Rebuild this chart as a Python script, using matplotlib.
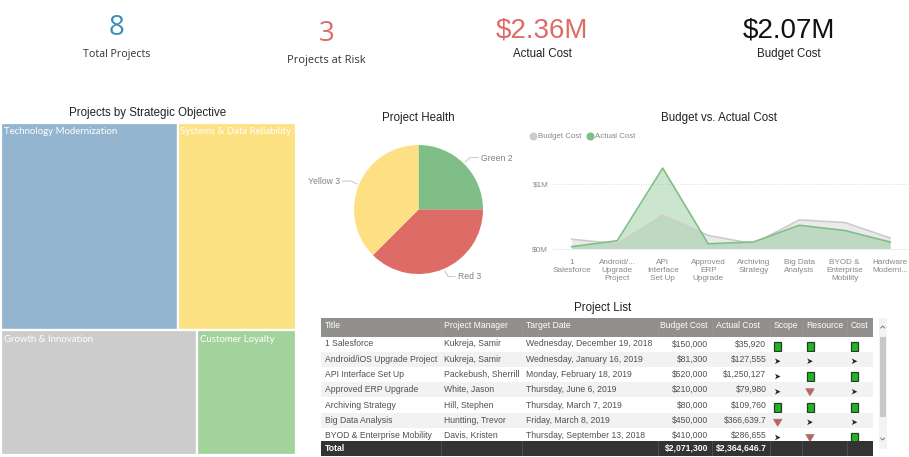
import matplotlib
matplotlib.use("Agg")
import matplotlib.pyplot as plt
from matplotlib.patches import Rectangle, Polygon

plt.rcParams["font.family"] = ["Liberation Sans", "DejaVu Sans"]

W, H = 909, 457

# treemap
tree_names = ["Technology Modernization", "Systems & Data Reliability", "Growth & Innovation", "Customer Loyalty"]
tree_values = [3, 2, 2, 1]
tree_colors = ["#94B5CF", "#FDE283", "#CCCCCC", "#A3D39C"]

# pie
health_names = ["Green", "Red", "Yellow"]
health_counts = [2, 3, 3]
health_colors = ["#7FBF87", "#DD6B66", "#FDE083"]

# area chart
cost_labels = ["1\nSalesforce", "Android/...\nUpgrade\nProject", "API\nInterface\nSet Up", "Approved\nERP\nUpgrade",
               "Archiving\nStrategy", "Big Data\nAnalysis", "BYOD &\nEnterprise\nMobility", "Hardware\nModerni..."]
budget_cost = [150000, 81300, 520000, 210000, 80000, 450000, 410000, 170000]
actual_cost = [35920, 127555, 1250127, 79980, 109760, 366639.7, 286655, 108010]

# table
table_headers = ["Title", "Project Manager", "Target Date", "Budget Cost", "Actual Cost", "Scope", "Resource", "Cost"]
titles = ["1 Salesforce", "Android/iOS Upgrade Project", "API Interface Set Up", "Approved ERP Upgrade",
          "Archiving Strategy", "Big Data Analysis", "BYOD & Enterprise Mobility"]
managers = ["Kukreja, Samir", "Kukreja, Samir", "Packebush, Sherrill", "White, Jason",
            "Hill, Stephen", "Huntting, Trevor", "Davis, Kristen"]
dates = ["Wednesday, December 19, 2018", "Wednesday, January 16, 2019", "Monday, February 18, 2019",
         "Thursday, June 6, 2019", "Thursday, March 7, 2019", "Friday, March 8, 2019",
         "Thursday, September 13, 2018"]
budget_text = ["$150,000", "$81,300", "$520,000", "$210,000", "$80,000", "$450,000", "$410,000"]
actual_text = ["$35,920", "$127,555", "$1,250,127", "$79,980", "$109,760", "$366,639.7", "$286,655"]
scope = ["g", "a", "a", "a", "g", "r", "a"]
resource = ["g", "a", "g", "r", "g", "a", "r"]
cost = ["g", "a", "g", "a", "g", "a", "g"]
total_budget = "$2,071,300"
total_actual = "$2,364,646.7"

TITLE_SIZE = 8.3
CELL_SIZE = 6.2


def make_axes(fig, left, top, right, bottom):
    return fig.add_axes([left / W, 1 - bottom / H, (right - left) / W, (bottom - top) / H])


def draw_kpis(ax):
    ax.text(116.7, 28, "8", fontsize=20, color="#3B8FB4", ha="center", va="center", family="Open Sans")
    ax.text(116.7, 54, "Total Projects", fontsize=7.7, color="#333333", ha="center", va="center", family="Open Sans")
    ax.text(326.7, 34, "3", fontsize=20, color="#DD6B66", ha="center", va="center", family="Open Sans")
    ax.text(326.7, 60, "Projects at Risk", fontsize=7.9, color="#333333", ha="center", va="center", family="Open Sans")
    ax.text(541.5, 31, "$2.36M", fontsize=20, color="#DD6B66", ha="center", va="center")
    ax.text(542.5, 54, "Actual Cost", fontsize=8.3, color="#222222", ha="center", va="center")
    ax.text(789, 31, "$2.07M", fontsize=20, color="#111111", ha="center", va="center")
    ax.text(789, 54, "Budget Cost", fontsize=8.3, color="#222222", ha="center", va="center")


def draw_treemap(ax):
    ax.text(148, 113.3, "Projects by Strategic Objective", fontsize=TITLE_SIZE, color="#222222", ha="center", va="center")
    left, right, top, bottom = 0.5, 295.5, 123, 454.5
    total = sum(tree_values)
    row_split = top + (bottom - top) * sum(tree_values[:2]) / total
    rows = [(tree_values[:2], tree_names[:2], tree_colors[:2], top, row_split),
            (tree_values[2:], tree_names[2:], tree_colors[2:], row_split, bottom)]
    for vals, names, colors, y0, y1 in rows:
        x = left
        for val, name, color in zip(vals, names, colors):
            w = (right - left) * val / sum(vals)
            ax.add_patch(Rectangle((x, y0), w, y1 - y0, facecolor=color, edgecolor="white", linewidth=1.6))
            ax.text(x + 3, y0 + 9, name, fontsize=6.9, color="white", ha="left", va="center", family="Lato")
            x += w


def draw_pie(fig, ax):
    ax.text(418, 117.7, "Project Health", fontsize=TITLE_SIZE, color="#222222", ha="center", va="center")
    pie_ax = make_axes(fig, 354, 145, 483, 274)
    pie_ax.pie(health_counts, colors=health_colors, startangle=90, counterclock=False, radius=1,
               wedgeprops={"linewidth": 0})
    pie_ax.set_xlim(-1, 1)
    pie_ax.set_ylim(-1, 1)
    # leader lines and labels
    ax.plot([465, 470, 478], [162, 157.5, 157.5], color="#CCCCCC", lw=0.8)
    ax.text(481.3, 158.7, f"{health_names[0]} {health_counts[0]}", fontsize=6.2, color="#808080", ha="left", va="center")
    ax.plot([445, 448, 455], [271, 276.5, 276.5], color="#CCCCCC", lw=0.8)
    ax.text(457.7, 276.7, f"{health_names[1]} {health_counts[1]}", fontsize=6.2, color="#808080", ha="left", va="center")
    ax.plot([342.7, 351, 357], [181, 181, 184], color="#CCCCCC", lw=0.8)
    ax.text(308, 182, f"{health_names[2]} {health_counts[2]}", fontsize=6.2, color="#808080", ha="left", va="center")


def draw_area(fig, ax):
    ax.text(719, 117.7, "Budget vs. Actual Cost", fontsize=TITLE_SIZE, color="#222222", ha="center", va="center")
    ax.plot([533], [136.3], "o", ms=4.8, color="#CCCCCC")
    ax.text(538, 136.5, "Budget Cost", fontsize=5.7, color="#888888", ha="left", va="center")
    ax.plot([590], [136.3], "o", ms=4.8, color="#7FBF87")
    ax.text(595, 136.5, "Actual Cost", fontsize=5.7, color="#888888", ha="left", va="center")

    area = make_axes(fig, 553, 150, 909, 249)
    x = list(range(len(cost_labels)))
    area.fill_between(x, budget_cost, color="#CCCCCC", alpha=0.4, lw=0)
    area.fill_between(x, actual_cost, color="#7FBF87", alpha=0.4, lw=0)
    area.plot(x, budget_cost, color="#CCCCCC", lw=1.2)
    area.plot(x, actual_cost, color="#7FBF87", lw=1.2)
    px = 45.5
    area.set_xlim(-(571.7 - 553) / px, (909 - 571.7) / px)
    area.set_ylim(0, 99 / 64.7 * 1e6)
    area.set_yticks([0, 1e6], ["$0M", "$1M"])
    area.set_xticks(x, cost_labels)
    area.tick_params(length=0, labelsize=5.9, labelcolor="#888888")
    area.tick_params(axis="x", pad=7.5)
    for label in area.get_xticklabels():
        label.set_linespacing(1.2)
    area.grid(axis="y", color="#DDDDDD", lw=0.7, ls=(0, (1, 1.5)))
    area.set_axisbelow(True)
    area.patch.set_alpha(0)
    for name, spine in area.spines.items():
        spine.set_visible(name == "bottom")
    area.spines["bottom"].set_color("#EEEEEE")


def draw_icon(ax, cx, cy, kind):
    if kind == "g":
        ax.add_patch(Rectangle((cx - 3.5, cy - 4.5), 7, 9, facecolor="#22B422", edgecolor="#2A3A2A", linewidth=0.9))
    elif kind == "r":
        ax.add_patch(Polygon([(cx - 4.2, cy - 3), (cx + 4.2, cy - 3), (cx, cy + 4)], facecolor="#D9594C",
                             edgecolor="#888888", linewidth=0.6))
    else:
        ax.add_patch(Polygon([(cx - 2.8, cy - 2.8), (cx + 2.8, cy), (cx - 2.8, cy + 2.8), (cx - 1.2, cy)],
                             facecolor="#222233", edgecolor="none"))


def draw_table(ax):
    ax.text(603, 307.7, "Project List", fontsize=TITLE_SIZE, color="#222222", ha="center", va="center")
    left, right = 321, 872.5
    row_h = 15.25
    head_top, head_bot = 317.5, 337
    ax.add_patch(Rectangle((left, head_top), right - left, head_bot - head_top, facecolor="#918F8D", edgecolor="none"))
    tx = [325, 444, 525.5]
    for label, xpos in zip(table_headers[:3], tx):
        ax.text(xpos, 325.2, label, fontsize=CELL_SIZE, color="white", ha="left", va="center")
    ax.text(708, 325.2, table_headers[3], fontsize=CELL_SIZE, color="white", ha="right", va="center")
    ax.text(760, 325.2, table_headers[4], fontsize=CELL_SIZE, color="white", ha="right", va="center")
    ax.text(774, 325.2, table_headers[5], fontsize=CELL_SIZE, color="white", ha="left", va="center")
    ax.text(806, 325.2, table_headers[6], fontsize=CELL_SIZE, color="white", ha="left", va="center")
    ax.text(850.5, 325.2, table_headers[7], fontsize=CELL_SIZE, color="white", ha="left", va="center")

    for i in range(len(titles)):
        cy = 344 + i * row_h
        if i % 2 == 1:
            ax.add_patch(Rectangle((left, cy - row_h / 2), right - left, row_h, facecolor="#F2F2F2", edgecolor="none"))
        ax.text(325, cy, titles[i], fontsize=CELL_SIZE, color="#505050", ha="left", va="center")
        ax.text(444, cy, managers[i], fontsize=CELL_SIZE, color="#505050", ha="left", va="center")
        ax.text(525.5, cy, dates[i], fontsize=CELL_SIZE, color="#505050", ha="left", va="center")
        ax.text(708, cy, budget_text[i], fontsize=CELL_SIZE, color="#505050", ha="right", va="center")
        ax.text(766.5, cy, actual_text[i], fontsize=CELL_SIZE, color="#505050", ha="right", va="center")
        draw_icon(ax, 777.7, cy + 2, scope[i])
        draw_icon(ax, 810, cy + 2, resource[i])
        draw_icon(ax, 854.5, cy + 2, cost[i])

    ax.add_patch(Rectangle((left, 440.7), right - left, 15.5, facecolor="#333333", edgecolor="none"))
    ax.text(325, 448.5, "Total", fontsize=CELL_SIZE, color="white", fontweight="bold", ha="left", va="center")
    ax.text(708, 448.5, total_budget, fontsize=CELL_SIZE, color="white", fontweight="bold", ha="right", va="center")
    ax.text(766.5, 448.5, total_actual, fontsize=CELL_SIZE, color="white", fontweight="bold", ha="right", va="center")
    # column separators show only in header and total rows
    for xline in [440.7, 521.7, 657.7, 711.7, 770.3, 802.3, 847]:
        ax.plot([xline, xline], [head_top, head_bot], color="#A8A6A4", lw=0.5, ls=(0, (1, 1.5)))
        ax.plot([xline, xline], [440.7, 456.2], color="#888888", lw=0.5, ls=(0, (1, 1.5)))

    # scrollbar
    ax.add_patch(Rectangle((879, 317.5), 8, 131.5, facecolor="#F3F3F3", edgecolor="none"))
    ax.add_patch(Rectangle((880, 337), 6, 80, facecolor="#C8C8C8", edgecolor="none"))
    ax.plot([880.7, 882.7, 884.7], [328, 326, 328], color="#666666", lw=0.6)
    ax.plot([880.7, 882.7, 884.7], [438, 440, 438], color="#666666", lw=0.6)


def main():
    fig = plt.figure(figsize=(W / 100, H / 100), dpi=100, facecolor="white")
    ax = fig.add_axes([0, 0, 1, 1])
    ax.set_xlim(0, W)
    ax.set_ylim(H, 0)
    ax.axis("off")
    draw_kpis(ax)
    draw_treemap(ax)
    draw_pie(fig, ax)
    draw_area(fig, ax)
    draw_table(ax)
    fig.savefig("out.png", dpi=100)


if __name__ == "__main__":
    main()
